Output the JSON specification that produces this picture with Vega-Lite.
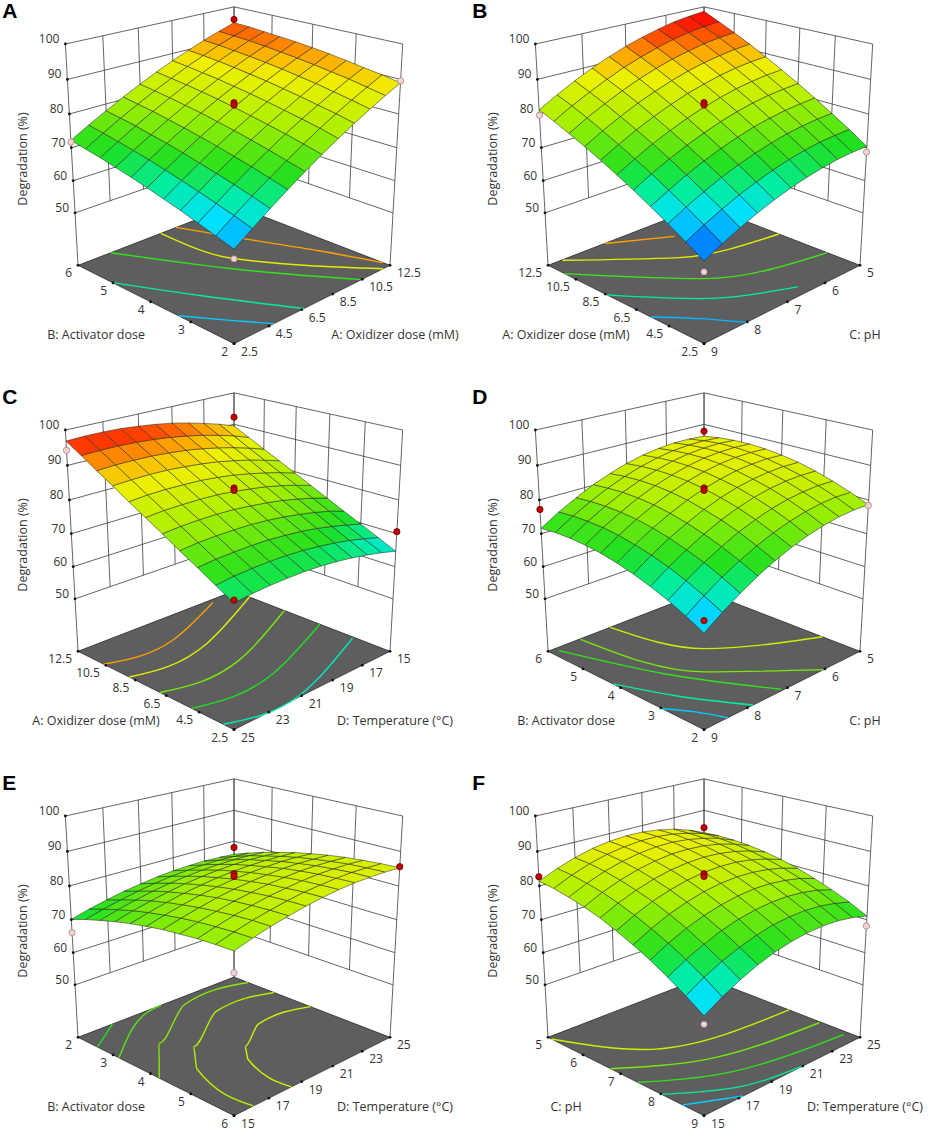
{
"$schema":"https://vega.github.io/schema/vega-lite/v6.json",
"background":"white",
"padding":0,
"bounds":"flush",
"columns":2,
"spacing":{"row":24,"column":0},
"data":{"values":[
{"t":"F","p":"A"},{"t":"F","p":"B"},{"t":"F","p":"C"},{"t":"F","p":"D"},{"t":"F","p":"E"},{"t":"F","p":"F"},
{"t":"L","p":"A","l":"A"},{"t":"L","p":"B","l":"B"},{"t":"L","p":"C","l":"C"},{"t":"L","p":"D","l":"D"},{"t":"L","p":"E","l":"E"},{"t":"L","p":"F","l":"F"},
{"t":"x","p":"A","v":-1,"l":"2.5"},{"t":"x","p":"A","v":-0.6,"l":"4.5"},{"t":"x","p":"A","v":-0.2,"l":"6.5"},{"t":"x","p":"A","v":0.2,"l":"8.5"},{"t":"x","p":"A","v":0.6,"l":"10.5"},{"t":"x","p":"A","v":1,"l":"12.5"},
{"t":"y","p":"A","v":-1,"l":"2"},{"t":"y","p":"A","v":-0.5,"l":"3"},{"t":"y","p":"A","v":0,"l":"4"},{"t":"y","p":"A","v":0.5,"l":"5"},{"t":"y","p":"A","v":1,"l":"6"},
{"t":"x","p":"B","v":-1,"l":"9"},{"t":"x","p":"B","v":-0.5,"l":"8"},{"t":"x","p":"B","v":0,"l":"7"},{"t":"x","p":"B","v":0.5,"l":"6"},{"t":"x","p":"B","v":1,"l":"5"},
{"t":"y","p":"B","v":-1,"l":"2.5"},{"t":"y","p":"B","v":-0.6,"l":"4.5"},{"t":"y","p":"B","v":-0.2,"l":"6.5"},{"t":"y","p":"B","v":0.2,"l":"8.5"},{"t":"y","p":"B","v":0.6,"l":"10.5"},{"t":"y","p":"B","v":1,"l":"12.5"},
{"t":"x","p":"C","v":-1,"l":"25"},{"t":"x","p":"C","v":-0.6,"l":"23"},{"t":"x","p":"C","v":-0.2,"l":"21"},{"t":"x","p":"C","v":0.2,"l":"19"},{"t":"x","p":"C","v":0.6,"l":"17"},{"t":"x","p":"C","v":1,"l":"15"},
{"t":"y","p":"C","v":-1,"l":"2.5"},{"t":"y","p":"C","v":-0.6,"l":"4.5"},{"t":"y","p":"C","v":-0.2,"l":"6.5"},{"t":"y","p":"C","v":0.2,"l":"8.5"},{"t":"y","p":"C","v":0.6,"l":"10.5"},{"t":"y","p":"C","v":1,"l":"12.5"},
{"t":"x","p":"D","v":-1,"l":"9"},{"t":"x","p":"D","v":-0.5,"l":"8"},{"t":"x","p":"D","v":0,"l":"7"},{"t":"x","p":"D","v":0.5,"l":"6"},{"t":"x","p":"D","v":1,"l":"5"},
{"t":"y","p":"D","v":-1,"l":"2"},{"t":"y","p":"D","v":-0.5,"l":"3"},{"t":"y","p":"D","v":0,"l":"4"},{"t":"y","p":"D","v":0.5,"l":"5"},{"t":"y","p":"D","v":1,"l":"6"},
{"t":"x","p":"E","v":-1,"l":"15"},{"t":"x","p":"E","v":-0.6,"l":"17"},{"t":"x","p":"E","v":-0.2,"l":"19"},{"t":"x","p":"E","v":0.2,"l":"21"},{"t":"x","p":"E","v":0.6,"l":"23"},{"t":"x","p":"E","v":1,"l":"25"},
{"t":"y","p":"E","v":-1,"l":"6"},{"t":"y","p":"E","v":-0.5,"l":"5"},{"t":"y","p":"E","v":0,"l":"4"},{"t":"y","p":"E","v":0.5,"l":"3"},{"t":"y","p":"E","v":1,"l":"2"},
{"t":"x","p":"F","v":-1,"l":"15"},{"t":"x","p":"F","v":-0.6,"l":"17"},{"t":"x","p":"F","v":-0.2,"l":"19"},{"t":"x","p":"F","v":0.2,"l":"21"},{"t":"x","p":"F","v":0.6,"l":"23"},{"t":"x","p":"F","v":1,"l":"25"},
{"t":"y","p":"F","v":-1,"l":"9"},{"t":"y","p":"F","v":-0.5,"l":"8"},{"t":"y","p":"F","v":0,"l":"7"},{"t":"y","p":"F","v":0.5,"l":"6"},{"t":"y","p":"F","v":1,"l":"5"},
{"t":"z","p":"A","z":50,"l":"50"},{"t":"z","p":"A","z":60,"l":"60"},{"t":"z","p":"A","z":70,"l":"70"},{"t":"z","p":"A","z":80,"l":"80"},{"t":"z","p":"A","z":90,"l":"90"},{"t":"z","p":"A","z":100,"l":"100"},
{"t":"z","p":"B","z":50,"l":"50"},{"t":"z","p":"B","z":60,"l":"60"},{"t":"z","p":"B","z":70,"l":"70"},{"t":"z","p":"B","z":80,"l":"80"},{"t":"z","p":"B","z":90,"l":"90"},{"t":"z","p":"B","z":100,"l":"100"},
{"t":"z","p":"C","z":50,"l":"50"},{"t":"z","p":"C","z":60,"l":"60"},{"t":"z","p":"C","z":70,"l":"70"},{"t":"z","p":"C","z":80,"l":"80"},{"t":"z","p":"C","z":90,"l":"90"},{"t":"z","p":"C","z":100,"l":"100"},
{"t":"z","p":"D","z":50,"l":"50"},{"t":"z","p":"D","z":60,"l":"60"},{"t":"z","p":"D","z":70,"l":"70"},{"t":"z","p":"D","z":80,"l":"80"},{"t":"z","p":"D","z":90,"l":"90"},{"t":"z","p":"D","z":100,"l":"100"},
{"t":"z","p":"E","z":50,"l":"50"},{"t":"z","p":"E","z":60,"l":"60"},{"t":"z","p":"E","z":70,"l":"70"},{"t":"z","p":"E","z":80,"l":"80"},{"t":"z","p":"E","z":90,"l":"90"},{"t":"z","p":"E","z":100,"l":"100"},
{"t":"z","p":"F","z":50,"l":"50"},{"t":"z","p":"F","z":60,"l":"60"},{"t":"z","p":"F","z":70,"l":"70"},{"t":"z","p":"F","z":80,"l":"80"},{"t":"z","p":"F","z":90,"l":"90"},{"t":"z","p":"F","z":100,"l":"100"},
{"t":"T","p":"A","a":"x","l":"A: Oxidizer dose (mM)"},{"t":"T","p":"A","a":"y","l":"B: Activator dose"},{"t":"T","p":"A","a":"z","l":"Degradation (%)"},
{"t":"T","p":"B","a":"x","l":"C: pH"},{"t":"T","p":"B","a":"y","l":"A: Oxidizer dose (mM)"},{"t":"T","p":"B","a":"z","l":"Degradation (%)"},
{"t":"T","p":"C","a":"x","l":"D: Temperature (°C)"},{"t":"T","p":"C","a":"y","l":"A: Oxidizer dose (mM)"},{"t":"T","p":"C","a":"z","l":"Degradation (%)"},
{"t":"T","p":"D","a":"x","l":"C: pH"},{"t":"T","p":"D","a":"y","l":"B: Activator dose"},{"t":"T","p":"D","a":"z","l":"Degradation (%)"},
{"t":"T","p":"E","a":"x","l":"D: Temperature (°C)"},{"t":"T","p":"E","a":"y","l":"B: Activator dose"},{"t":"T","p":"E","a":"z","l":"Degradation (%)"},
{"t":"T","p":"F","a":"x","l":"D: Temperature (°C)"},{"t":"T","p":"F","a":"y","l":"C: pH"},{"t":"T","p":"F","a":"z","l":"Degradation (%)"},
{"t":"d","p":"A","x":1,"y":1,"z":96.0,"a":1},{"t":"d","p":"A","x":1,"y":-1,"z":89.6,"a":0},{"t":"d","p":"A","x":-1,"y":1,"z":71.7,"a":0},{"t":"d","p":"A","x":0,"y":0,"z":83.3,"a":1},{"t":"d","p":"A","x":0,"y":0,"z":82.6,"a":1},{"t":"d","p":"A","x":-1,"y":-1,"z":57.2,"a":0},
{"t":"d","p":"B","x":-1,"y":1,"z":79.6,"a":0},{"t":"d","p":"B","x":1,"y":-1,"z":68.7,"a":0},{"t":"d","p":"B","x":0,"y":0,"z":83.3,"a":1},{"t":"d","p":"B","x":0,"y":0,"z":82.6,"a":1},{"t":"d","p":"B","x":-1,"y":-1,"z":53.6,"a":0},
{"t":"d","p":"C","x":1,"y":1,"z":92.3,"a":1},{"t":"d","p":"C","x":-1,"y":1,"z":94.3,"a":0},{"t":"d","p":"C","x":0,"y":0,"z":83.5,"a":1},{"t":"d","p":"C","x":0,"y":0,"z":82.8,"a":1},{"t":"d","p":"C","x":1,"y":-1,"z":70.6,"a":1},{"t":"d","p":"C","x":-1,"y":-1,"z":69.3,"a":1},
{"t":"d","p":"D","x":1,"y":1,"z":87.8,"a":1},{"t":"d","p":"D","x":-1,"y":1,"z":77.2,"a":1},{"t":"d","p":"D","x":1,"y":-1,"z":78.4,"a":0},{"t":"d","p":"D","x":0,"y":0,"z":83.5,"a":1},{"t":"d","p":"D","x":0,"y":0,"z":82.8,"a":1},{"t":"d","p":"D","x":-1,"y":-1,"z":63.8,"a":1},
{"t":"d","p":"E","x":1,"y":1,"z":77.9,"a":1},{"t":"d","p":"E","x":0,"y":0,"z":83.6,"a":1},{"t":"d","p":"E","x":0,"y":0,"z":82.8,"a":1},{"t":"d","p":"E","x":1,"y":-1,"z":85.6,"a":1},{"t":"d","p":"E","x":-1,"y":1,"z":66.1,"a":0},{"t":"d","p":"E","x":-1,"y":-1,"z":72.8,"a":0},
{"t":"d","p":"F","x":1,"y":1,"z":84.4,"a":1},{"t":"d","p":"F","x":0,"y":0,"z":83.6,"a":1},{"t":"d","p":"F","x":0,"y":0,"z":82.8,"a":1},{"t":"d","p":"F","x":-1,"y":1,"z":82.7,"a":1},{"t":"d","p":"F","x":1,"y":-1,"z":68.1,"a":0},{"t":"d","p":"F","x":-1,"y":-1,"z":59.0,"a":0},
{"t":"c","p":"A","g":1,"z":63,"x":-1,"y":-0.35},{"t":"c","p":"A","g":1,"z":63,"x":-0.78,"y":-0.67},{"t":"c","p":"A","g":1,"z":63,"x":-0.54,"y":-1},
{"t":"c","p":"A","g":2,"z":68,"x":-1,"y":0.51},{"t":"c","p":"A","g":2,"z":68,"x":-0.61,"y":-0.24},{"t":"c","p":"A","g":2,"z":68,"x":-0.17,"y":-1},
{"t":"c","p":"A","g":3,"z":73,"x":-0.62,"y":1},{"t":"c","p":"A","g":3,"z":73,"x":-0.06,"y":-0.04},{"t":"c","p":"A","g":3,"z":73,"x":0.59,"y":-1},
{"t":"c","p":"A","g":4,"z":86,"x":0,"y":1},{"t":"c","p":"A","g":4,"z":86,"x":0.09,"y":0.12},{"t":"c","p":"A","g":4,"z":86,"x":0.9,"y":-1},
{"t":"c","p":"A","g":5,"z":92,"x":0.2,"y":1},{"t":"c","p":"A","g":5,"z":92,"x":0.48,"y":0.34},{"t":"c","p":"A","g":5,"z":92,"x":0.78,"y":-0.34},{"t":"c","p":"A","g":5,"z":92,"x":1,"y":-0.92},
{"t":"c","p":"B","g":1,"z":62,"x":-1,"y":-0.38},{"t":"c","p":"B","g":1,"z":62,"x":-0.73,"y":-0.69},{"t":"c","p":"B","g":1,"z":62,"x":-0.51,"y":-1},
{"t":"c","p":"B","g":2,"z":68,"x":-1,"y":0.18},{"t":"c","p":"B","g":2,"z":68,"x":-0.48,"y":-0.44},{"t":"c","p":"B","g":2,"z":68,"x":0.28,"y":-0.88},
{"t":"c","p":"B","g":3,"z":74,"x":-1,"y":0.76},{"t":"c","p":"B","g":3,"z":74,"x":-0.19,"y":-0.19},{"t":"c","p":"B","g":3,"z":74,"x":1,"y":-0.62},
{"t":"c","p":"B","g":4,"z":86,"x":-0.84,"y":0.99},{"t":"c","p":"B","g":4,"z":86,"x":-0.05,"y":0.28},{"t":"c","p":"B","g":4,"z":86,"x":1,"y":-0.02},
{"t":"c","p":"B","g":5,"z":92,"x":-0.33,"y":1},{"t":"c","p":"B","g":5,"z":92,"x":0.25,"y":0.65},
{"t":"c","p":"C","g":1,"z":92,"x":-1,"y":0.63},{"t":"c","p":"C","g":1,"z":92,"x":-0.23,"y":0.57},{"t":"c","p":"C","g":1,"z":92,"x":0.64,"y":0.94},
{"t":"c","p":"C","g":2,"z":86,"x":-1,"y":0.28},{"t":"c","p":"C","g":2,"z":86,"x":-0.07,"y":0.29},{"t":"c","p":"C","g":2,"z":86,"x":1,"y":0.78},
{"t":"c","p":"C","g":3,"z":77,"x":-1,"y":-0.12},{"t":"c","p":"C","g":3,"z":77,"x":-0.1,"y":-0.16},{"t":"c","p":"C","g":3,"z":77,"x":1,"y":0.3},
{"t":"c","p":"C","g":4,"z":72,"x":-1,"y":-0.51},{"t":"c","p":"C","g":4,"z":72,"x":-0.06,"y":-0.55},{"t":"c","p":"C","g":4,"z":72,"x":1,"y":-0.16},
{"t":"c","p":"C","g":5,"z":67,"x":-1,"y":-0.88},{"t":"c","p":"C","g":5,"z":67,"x":-0.19,"y":-0.98},{"t":"c","p":"C","g":5,"z":67,"x":0.98,"y":-0.58},
{"t":"c","p":"D","g":1,"z":84,"x":-0.26,"y":1},{"t":"c","p":"D","g":1,"z":84,"x":0.04,"y":0.04},{"t":"c","p":"D","g":1,"z":84,"x":1,"y":-0.56},
{"t":"c","p":"D","g":2,"z":77,"x":-0.63,"y":0.99},{"t":"c","p":"D","g":2,"z":77,"x":-0.29,"y":-0.29},{"t":"c","p":"D","g":2,"z":77,"x":0.48,"y":-1},
{"t":"c","p":"D","g":3,"z":73,"x":-0.92,"y":0.94},{"t":"c","p":"D","g":3,"z":73,"x":-0.56,"y":-0.07},{"t":"c","p":"D","g":3,"z":73,"x":-0.06,"y":-0.98},
{"t":"c","p":"D","g":4,"z":68,"x":-1,"y":0.1},{"t":"c","p":"D","g":4,"z":68,"x":-0.75,"y":-0.47},{"t":"c","p":"D","g":4,"z":68,"x":-0.43,"y":-1},
{"t":"c","p":"D","g":5,"z":63,"x":-1,"y":-0.52},{"t":"c","p":"D","g":5,"z":63,"x":-0.84,"y":-0.76},{"t":"c","p":"D","g":5,"z":63,"x":-0.73,"y":-1},
{"t":"c","p":"E","g":1,"z":72,"x":-1,"y":0.72},{"t":"c","p":"E","g":1,"z":72,"x":-0.6,"y":1},
{"t":"c","p":"E","g":2,"z":75,"x":-1,"y":0.42},{"t":"c","p":"E","g":2,"z":75,"x":-0.55,"y":0.78},{"t":"c","p":"E","g":2,"z":75,"x":0,"y":1},
{"t":"c","p":"E","g":3,"z":78,"x":-1,"y":-0.11},{"t":"c","p":"E","g":3,"z":78,"x":-0.56,"y":0.39},{"t":"c","p":"E","g":3,"z":78,"x":0.17,"y":0.85},{"t":"c","p":"E","g":3,"z":78,"x":1,"y":0.8},
{"t":"c","p":"E","g":4,"z":81,"x":-0.78,"y":-1},{"t":"c","p":"E","g":4,"z":81,"x":-0.66,"y":-0.21},{"t":"c","p":"E","g":4,"z":81,"x":-0.39,"y":0.12},{"t":"c","p":"E","g":4,"z":81,"x":0.28,"y":0.52},{"t":"c","p":"E","g":4,"z":81,"x":1,"y":0.44},
{"t":"c","p":"E","g":5,"z":85,"x":-0.33,"y":-1},{"t":"c","p":"E","g":5,"z":85,"x":-0.22,"y":-0.39},{"t":"c","p":"E","g":5,"z":85,"x":-0.06,"y":-0.2},{"t":"c","p":"E","g":5,"z":85,"x":0.36,"y":0.04},{"t":"c","p":"E","g":5,"z":85,"x":1,"y":-0.04},
{"t":"c","p":"F","g":1,"z":84,"x":-1,"y":0.95},{"t":"c","p":"F","g":1,"z":84,"x":-0.55,"y":0.2},{"t":"c","p":"F","g":1,"z":84,"x":1,"y":-0.15},
{"t":"c","p":"F","g":2,"z":77,"x":-1,"y":0.13},{"t":"c","p":"F","g":2,"z":77,"x":-0.26,"y":-0.34},{"t":"c","p":"F","g":2,"z":77,"x":0.98,"y":-0.54},
{"t":"c","p":"F","g":3,"z":73,"x":-1,"y":-0.22},{"t":"c","p":"F","g":3,"z":73,"x":-0.31,"y":-0.64},{"t":"c","p":"F","g":3,"z":73,"x":0.94,"y":-0.86},
{"t":"c","p":"F","g":4,"z":68,"x":-1,"y":-0.51},{"t":"c","p":"F","g":4,"z":68,"x":-0.46,"y":-0.87},{"t":"c","p":"F","g":4,"z":68,"x":0.22,"y":-1},
{"t":"c","p":"F","g":5,"z":63,"x":-1,"y":-0.76},{"t":"c","p":"F","g":5,"z":63,"x":-0.55,"y":-1},
{"p":"A","x":-1,"y":-1,"z":59.8},{"p":"A","x":-1,"y":-0.8,"z":61.4},{"p":"A","x":-1,"y":-0.6,"z":62.9},{"p":"A","x":-1,"y":-0.4,"z":64.4},{"p":"A","x":-1,"y":-0.2,"z":65.7},{"p":"A","x":-1,"y":0,"z":67},{"p":"A","x":-1,"y":0.2,"z":68.2},{"p":"A","x":-1,"y":0.4,"z":69.3},{"p":"A","x":-1,"y":0.6,"z":70.4},{"p":"A","x":-1,"y":0.8,"z":71.3},{"p":"A","x":-1,"y":1,"z":72.2},
{"p":"A","x":-0.8,"y":-1,"z":63.4},{"p":"A","x":-0.8,"y":-0.8,"z":65.0},{"p":"A","x":-0.8,"y":-0.6,"z":66.4},{"p":"A","x":-0.8,"y":-0.4,"z":67.8},{"p":"A","x":-0.8,"y":-0.2,"z":69.1},{"p":"A","x":-0.8,"y":0,"z":70.3},{"p":"A","x":-0.8,"y":0.2,"z":71.5},{"p":"A","x":-0.8,"y":0.4,"z":72.5},{"p":"A","x":-0.8,"y":0.6,"z":73.5},{"p":"A","x":-0.8,"y":0.8,"z":74.4},{"p":"A","x":-0.8,"y":1,"z":75.2},
{"p":"A","x":-0.6,"y":-1,"z":66.9},{"p":"A","x":-0.6,"y":-0.8,"z":68.4},{"p":"A","x":-0.6,"y":-0.6,"z":69.8},{"p":"A","x":-0.6,"y":-0.4,"z":71.1},{"p":"A","x":-0.6,"y":-0.2,"z":72.3},{"p":"A","x":-0.6,"y":0,"z":73.5},{"p":"A","x":-0.6,"y":0.2,"z":74.6},{"p":"A","x":-0.6,"y":0.4,"z":75.5},{"p":"A","x":-0.6,"y":0.6,"z":76.5},{"p":"A","x":-0.6,"y":0.8,"z":77.3},{"p":"A","x":-0.6,"y":1,"z":78.0},
{"p":"A","x":-0.4,"y":-1,"z":70.2},{"p":"A","x":-0.4,"y":-0.8,"z":71.6},{"p":"A","x":-0.4,"y":-0.6,"z":73.0},{"p":"A","x":-0.4,"y":-0.4,"z":74.2},{"p":"A","x":-0.4,"y":-0.2,"z":75.4},{"p":"A","x":-0.4,"y":0,"z":76.5},{"p":"A","x":-0.4,"y":0.2,"z":77.5},{"p":"A","x":-0.4,"y":0.4,"z":78.4},{"p":"A","x":-0.4,"y":0.6,"z":79.3},{"p":"A","x":-0.4,"y":0.8,"z":80.0},{"p":"A","x":-0.4,"y":1,"z":80.7},
{"p":"A","x":-0.2,"y":-1,"z":73.4},{"p":"A","x":-0.2,"y":-0.8,"z":74.7},{"p":"A","x":-0.2,"y":-0.6,"z":76.0},{"p":"A","x":-0.2,"y":-0.4,"z":77.2},{"p":"A","x":-0.2,"y":-0.2,"z":78.3},{"p":"A","x":-0.2,"y":0,"z":79.3},{"p":"A","x":-0.2,"y":0.2,"z":80.3},{"p":"A","x":-0.2,"y":0.4,"z":81.1},{"p":"A","x":-0.2,"y":0.6,"z":81.9},{"p":"A","x":-0.2,"y":0.8,"z":82.6},{"p":"A","x":-0.2,"y":1,"z":83.2},
{"p":"A","x":0,"y":-1,"z":76.4},{"p":"A","x":0,"y":-0.8,"z":77.7},{"p":"A","x":0,"y":-0.6,"z":78.9},{"p":"A","x":0,"y":-0.4,"z":80.0},{"p":"A","x":0,"y":-0.2,"z":81.0},{"p":"A","x":0,"y":0,"z":82.0},{"p":"A","x":0,"y":0.2,"z":82.9},{"p":"A","x":0,"y":0.4,"z":83.7},{"p":"A","x":0,"y":0.6,"z":84.4},{"p":"A","x":0,"y":0.8,"z":85.0},{"p":"A","x":0,"y":1,"z":85.6},
{"p":"A","x":0.2,"y":-1,"z":79.2},{"p":"A","x":0.2,"y":-0.8,"z":80.5},{"p":"A","x":0.2,"y":-0.6,"z":81.6},{"p":"A","x":0.2,"y":-0.4,"z":82.6},{"p":"A","x":0.2,"y":-0.2,"z":83.6},{"p":"A","x":0.2,"y":0,"z":84.5},{"p":"A","x":0.2,"y":0.2,"z":85.3},{"p":"A","x":0.2,"y":0.4,"z":86.1},{"p":"A","x":0.2,"y":0.6,"z":86.7},{"p":"A","x":0.2,"y":0.8,"z":87.3},{"p":"A","x":0.2,"y":1,"z":87.8},
{"p":"A","x":0.4,"y":-1,"z":81.9},{"p":"A","x":0.4,"y":-0.8,"z":83.1},{"p":"A","x":0.4,"y":-0.6,"z":84.1},{"p":"A","x":0.4,"y":-0.4,"z":85.1},{"p":"A","x":0.4,"y":-0.2,"z":86.0},{"p":"A","x":0.4,"y":0,"z":86.9},{"p":"A","x":0.4,"y":0.2,"z":87.6},{"p":"A","x":0.4,"y":0.4,"z":88.3},{"p":"A","x":0.4,"y":0.6,"z":88.9},{"p":"A","x":0.4,"y":0.8,"z":89.4},{"p":"A","x":0.4,"y":1,"z":89.8},
{"p":"A","x":0.6,"y":-1,"z":84.4},{"p":"A","x":0.6,"y":-0.8,"z":85.5},{"p":"A","x":0.6,"y":-0.6,"z":86.5},{"p":"A","x":0.6,"y":-0.4,"z":87.5},{"p":"A","x":0.6,"y":-0.2,"z":88.3},{"p":"A","x":0.6,"y":0,"z":89.1},{"p":"A","x":0.6,"y":0.2,"z":89.8},{"p":"A","x":0.6,"y":0.4,"z":90.4},{"p":"A","x":0.6,"y":0.6,"z":90.9},{"p":"A","x":0.6,"y":0.8,"z":91.4},{"p":"A","x":0.6,"y":1,"z":91.7},
{"p":"A","x":0.8,"y":-1,"z":86.8},{"p":"A","x":0.8,"y":-0.8,"z":87.8},{"p":"A","x":0.8,"y":-0.6,"z":88.8},{"p":"A","x":0.8,"y":-0.4,"z":89.6},{"p":"A","x":0.8,"y":-0.2,"z":90.4},{"p":"A","x":0.8,"y":0,"z":91.1},{"p":"A","x":0.8,"y":0.2,"z":91.7},{"p":"A","x":0.8,"y":0.4,"z":92.3},{"p":"A","x":0.8,"y":0.6,"z":92.8},{"p":"A","x":0.8,"y":0.8,"z":93.1},{"p":"A","x":0.8,"y":1,"z":93.4},
{"p":"A","x":1,"y":-1,"z":89.0},{"p":"A","x":1,"y":-0.8,"z":90.0},{"p":"A","x":1,"y":-0.6,"z":90.8},{"p":"A","x":1,"y":-0.4,"z":91.6},{"p":"A","x":1,"y":-0.2,"z":92.4},{"p":"A","x":1,"y":0,"z":93.0},{"p":"A","x":1,"y":0.2,"z":93.6},{"p":"A","x":1,"y":0.4,"z":94.0},{"p":"A","x":1,"y":0.6,"z":94.4},{"p":"A","x":1,"y":0.8,"z":94.8},{"p":"A","x":1,"y":1,"z":95.0},
{"p":"B","x":-1,"y":-1,"z":56.6},{"p":"B","x":-1,"y":-0.8,"z":59.7},{"p":"B","x":-1,"y":-0.6,"z":62.7},{"p":"B","x":-1,"y":-0.4,"z":65.5},{"p":"B","x":-1,"y":-0.2,"z":68.2},{"p":"B","x":-1,"y":0,"z":70.7},{"p":"B","x":-1,"y":0.2,"z":73.1},{"p":"B","x":-1,"y":0.4,"z":75.3},{"p":"B","x":-1,"y":0.6,"z":77.4},{"p":"B","x":-1,"y":0.8,"z":79.4},{"p":"B","x":-1,"y":1,"z":81.2},
{"p":"B","x":-0.8,"y":-1,"z":59.2},{"p":"B","x":-0.8,"y":-0.8,"z":62.4},{"p":"B","x":-0.8,"y":-0.6,"z":65.4},{"p":"B","x":-0.8,"y":-0.4,"z":68.2},{"p":"B","x":-0.8,"y":-0.2,"z":71.0},{"p":"B","x":-0.8,"y":0,"z":73.5},{"p":"B","x":-0.8,"y":0.2,"z":75.9},{"p":"B","x":-0.8,"y":0.4,"z":78.2},{"p":"B","x":-0.8,"y":0.6,"z":80.4},{"p":"B","x":-0.8,"y":0.8,"z":82.4},{"p":"B","x":-0.8,"y":1,"z":84.2},
{"p":"B","x":-0.6,"y":-1,"z":61.6},{"p":"B","x":-0.6,"y":-0.8,"z":64.8},{"p":"B","x":-0.6,"y":-0.6,"z":67.8},{"p":"B","x":-0.6,"y":-0.4,"z":70.7},{"p":"B","x":-0.6,"y":-0.2,"z":73.5},{"p":"B","x":-0.6,"y":0,"z":76.1},{"p":"B","x":-0.6,"y":0.2,"z":78.5},{"p":"B","x":-0.6,"y":0.4,"z":80.8},{"p":"B","x":-0.6,"y":0.6,"z":83.0},{"p":"B","x":-0.6,"y":0.8,"z":85.0},{"p":"B","x":-0.6,"y":1,"z":86.9},
{"p":"B","x":-0.4,"y":-1,"z":63.7},{"p":"B","x":-0.4,"y":-0.8,"z":66.9},{"p":"B","x":-0.4,"y":-0.6,"z":70.0},{"p":"B","x":-0.4,"y":-0.4,"z":72.9},{"p":"B","x":-0.4,"y":-0.2,"z":75.7},{"p":"B","x":-0.4,"y":0,"z":78.3},{"p":"B","x":-0.4,"y":0.2,"z":80.8},{"p":"B","x":-0.4,"y":0.4,"z":83.2},{"p":"B","x":-0.4,"y":0.6,"z":85.4},{"p":"B","x":-0.4,"y":0.8,"z":87.4},{"p":"B","x":-0.4,"y":1,"z":89.4},
{"p":"B","x":-0.2,"y":-1,"z":65.5},{"p":"B","x":-0.2,"y":-0.8,"z":68.7},{"p":"B","x":-0.2,"y":-0.6,"z":71.8},{"p":"B","x":-0.2,"y":-0.4,"z":74.8},{"p":"B","x":-0.2,"y":-0.2,"z":77.6},{"p":"B","x":-0.2,"y":0,"z":80.3},{"p":"B","x":-0.2,"y":0.2,"z":82.8},{"p":"B","x":-0.2,"y":0.4,"z":85.2},{"p":"B","x":-0.2,"y":0.6,"z":87.5},{"p":"B","x":-0.2,"y":0.8,"z":89.6},{"p":"B","x":-0.2,"y":1,"z":91.5},
{"p":"B","x":0,"y":-1,"z":67.0},{"p":"B","x":0,"y":-0.8,"z":70.3},{"p":"B","x":0,"y":-0.6,"z":73.4},{"p":"B","x":0,"y":-0.4,"z":76.4},{"p":"B","x":0,"y":-0.2,"z":79.3},{"p":"B","x":0,"y":0,"z":82.0},{"p":"B","x":0,"y":0.2,"z":84.6},{"p":"B","x":0,"y":0.4,"z":87.0},{"p":"B","x":0,"y":0.6,"z":89.3},{"p":"B","x":0,"y":0.8,"z":91.4},{"p":"B","x":0,"y":1,"z":93.4},
{"p":"B","x":0.2,"y":-1,"z":68.2},{"p":"B","x":0.2,"y":-0.8,"z":71.6},{"p":"B","x":0.2,"y":-0.6,"z":74.7},{"p":"B","x":0.2,"y":-0.4,"z":77.8},{"p":"B","x":0.2,"y":-0.2,"z":80.7},{"p":"B","x":0.2,"y":0,"z":83.4},{"p":"B","x":0.2,"y":0.2,"z":86.0},{"p":"B","x":0.2,"y":0.4,"z":88.5},{"p":"B","x":0.2,"y":0.6,"z":90.8},{"p":"B","x":0.2,"y":0.8,"z":93.0},{"p":"B","x":0.2,"y":1,"z":95.0},
{"p":"B","x":0.4,"y":-1,"z":69.2},{"p":"B","x":0.4,"y":-0.8,"z":72.6},{"p":"B","x":0.4,"y":-0.6,"z":75.8},{"p":"B","x":0.4,"y":-0.4,"z":78.8},{"p":"B","x":0.4,"y":-0.2,"z":81.8},{"p":"B","x":0.4,"y":0,"z":84.6},{"p":"B","x":0.4,"y":0.2,"z":87.2},{"p":"B","x":0.4,"y":0.4,"z":89.7},{"p":"B","x":0.4,"y":0.6,"z":92.0},{"p":"B","x":0.4,"y":0.8,"z":94.3},{"p":"B","x":0.4,"y":1,"z":96.3},
{"p":"B","x":0.6,"y":-1,"z":69.9},{"p":"B","x":0.6,"y":-0.8,"z":73.3},{"p":"B","x":0.6,"y":-0.6,"z":76.5},{"p":"B","x":0.6,"y":-0.4,"z":79.6},{"p":"B","x":0.6,"y":-0.2,"z":82.6},{"p":"B","x":0.6,"y":0,"z":85.4},{"p":"B","x":0.6,"y":0.2,"z":88.1},{"p":"B","x":0.6,"y":0.4,"z":90.6},{"p":"B","x":0.6,"y":0.6,"z":93.0},{"p":"B","x":0.6,"y":0.8,"z":95.3},{"p":"B","x":0.6,"y":1,"z":97.4},
{"p":"B","x":0.8,"y":-1,"z":70.3},{"p":"B","x":0.8,"y":-0.8,"z":73.7},{"p":"B","x":0.8,"y":-0.6,"z":77.0},{"p":"B","x":0.8,"y":-0.4,"z":80.1},{"p":"B","x":0.8,"y":-0.2,"z":83.1},{"p":"B","x":0.8,"y":0,"z":86.0},{"p":"B","x":0.8,"y":0.2,"z":88.7},{"p":"B","x":0.8,"y":0.4,"z":91.3},{"p":"B","x":0.8,"y":0.6,"z":93.7},{"p":"B","x":0.8,"y":0.8,"z":96.0},{"p":"B","x":0.8,"y":1,"z":98.1},
{"p":"B","x":1,"y":-1,"z":70.4},{"p":"B","x":1,"y":-0.8,"z":73.9},{"p":"B","x":1,"y":-0.6,"z":77.2},{"p":"B","x":1,"y":-0.4,"z":80.4},{"p":"B","x":1,"y":-0.2,"z":83.4},{"p":"B","x":1,"y":0,"z":86.3},{"p":"B","x":1,"y":0.2,"z":89.0},{"p":"B","x":1,"y":0.4,"z":91.7},{"p":"B","x":1,"y":0.6,"z":94.1},{"p":"B","x":1,"y":0.8,"z":96.4},{"p":"B","x":1,"y":1,"z":98.6},
{"p":"C","x":-1,"y":-1,"z":68.5},{"p":"C","x":-1,"y":-0.8,"z":71.3},{"p":"C","x":-1,"y":-0.6,"z":74.2},{"p":"C","x":-1,"y":-0.4,"z":77.0},{"p":"C","x":-1,"y":-0.2,"z":79.9},{"p":"C","x":-1,"y":0,"z":82.7},{"p":"C","x":-1,"y":0.2,"z":85.5},{"p":"C","x":-1,"y":0.4,"z":88.4},{"p":"C","x":-1,"y":0.6,"z":91.2},{"p":"C","x":-1,"y":0.8,"z":94.1},{"p":"C","x":-1,"y":1,"z":96.9},
{"p":"C","x":-0.8,"y":-1,"z":69.1},{"p":"C","x":-0.8,"y":-0.8,"z":71.9},{"p":"C","x":-0.8,"y":-0.6,"z":74.7},{"p":"C","x":-0.8,"y":-0.4,"z":77.5},{"p":"C","x":-0.8,"y":-0.2,"z":80.3},{"p":"C","x":-0.8,"y":0,"z":83.1},{"p":"C","x":-0.8,"y":0.2,"z":85.9},{"p":"C","x":-0.8,"y":0.4,"z":88.7},{"p":"C","x":-0.8,"y":0.6,"z":91.5},{"p":"C","x":-0.8,"y":0.8,"z":94.3},{"p":"C","x":-0.8,"y":1,"z":97.1},
{"p":"C","x":-0.6,"y":-1,"z":69.4},{"p":"C","x":-0.6,"y":-0.8,"z":72.2},{"p":"C","x":-0.6,"y":-0.6,"z":74.9},{"p":"C","x":-0.6,"y":-0.4,"z":77.7},{"p":"C","x":-0.6,"y":-0.2,"z":80.5},{"p":"C","x":-0.6,"y":0,"z":83.2},{"p":"C","x":-0.6,"y":0.2,"z":86.0},{"p":"C","x":-0.6,"y":0.4,"z":88.8},{"p":"C","x":-0.6,"y":0.6,"z":91.5},{"p":"C","x":-0.6,"y":0.8,"z":94.3},{"p":"C","x":-0.6,"y":1,"z":97.1},
{"p":"C","x":-0.4,"y":-1,"z":69.5},{"p":"C","x":-0.4,"y":-0.8,"z":72.3},{"p":"C","x":-0.4,"y":-0.6,"z":75.0},{"p":"C","x":-0.4,"y":-0.4,"z":77.7},{"p":"C","x":-0.4,"y":-0.2,"z":80.5},{"p":"C","x":-0.4,"y":0,"z":83.2},{"p":"C","x":-0.4,"y":0.2,"z":85.9},{"p":"C","x":-0.4,"y":0.4,"z":88.7},{"p":"C","x":-0.4,"y":0.6,"z":91.4},{"p":"C","x":-0.4,"y":0.8,"z":94.1},{"p":"C","x":-0.4,"y":1,"z":96.9},
{"p":"C","x":-0.2,"y":-1,"z":69.5},{"p":"C","x":-0.2,"y":-0.8,"z":72.2},{"p":"C","x":-0.2,"y":-0.6,"z":74.9},{"p":"C","x":-0.2,"y":-0.4,"z":77.6},{"p":"C","x":-0.2,"y":-0.2,"z":80.3},{"p":"C","x":-0.2,"y":0,"z":83.0},{"p":"C","x":-0.2,"y":0.2,"z":85.7},{"p":"C","x":-0.2,"y":0.4,"z":88.3},{"p":"C","x":-0.2,"y":0.6,"z":91.0},{"p":"C","x":-0.2,"y":0.8,"z":93.7},{"p":"C","x":-0.2,"y":1,"z":96.4},
{"p":"C","x":0,"y":-1,"z":69.2},{"p":"C","x":0,"y":-0.8,"z":71.9},{"p":"C","x":0,"y":-0.6,"z":74.5},{"p":"C","x":0,"y":-0.4,"z":77.2},{"p":"C","x":0,"y":-0.2,"z":79.8},{"p":"C","x":0,"y":0,"z":82.5},{"p":"C","x":0,"y":0.2,"z":85.2},{"p":"C","x":0,"y":0.4,"z":87.8},{"p":"C","x":0,"y":0.6,"z":90.5},{"p":"C","x":0,"y":0.8,"z":93.1},{"p":"C","x":0,"y":1,"z":95.8},
{"p":"C","x":0.2,"y":-1,"z":68.7},{"p":"C","x":0.2,"y":-0.8,"z":71.3},{"p":"C","x":0.2,"y":-0.6,"z":74.0},{"p":"C","x":0.2,"y":-0.4,"z":76.6},{"p":"C","x":0.2,"y":-0.2,"z":79.2},{"p":"C","x":0.2,"y":0,"z":81.8},{"p":"C","x":0.2,"y":0.2,"z":84.5},{"p":"C","x":0.2,"y":0.4,"z":87.1},{"p":"C","x":0.2,"y":0.6,"z":89.7},{"p":"C","x":0.2,"y":0.8,"z":92.3},{"p":"C","x":0.2,"y":1,"z":95.0},
{"p":"C","x":0.4,"y":-1,"z":68.0},{"p":"C","x":0.4,"y":-0.8,"z":70.6},{"p":"C","x":0.4,"y":-0.6,"z":73.2},{"p":"C","x":0.4,"y":-0.4,"z":75.8},{"p":"C","x":0.4,"y":-0.2,"z":78.4},{"p":"C","x":0.4,"y":0,"z":81.0},{"p":"C","x":0.4,"y":0.2,"z":83.5},{"p":"C","x":0.4,"y":0.4,"z":86.1},{"p":"C","x":0.4,"y":0.6,"z":88.7},{"p":"C","x":0.4,"y":0.8,"z":91.3},{"p":"C","x":0.4,"y":1,"z":93.9},
{"p":"C","x":0.6,"y":-1,"z":67.1},{"p":"C","x":0.6,"y":-0.8,"z":69.7},{"p":"C","x":0.6,"y":-0.6,"z":72.2},{"p":"C","x":0.6,"y":-0.4,"z":74.8},{"p":"C","x":0.6,"y":-0.2,"z":77.3},{"p":"C","x":0.6,"y":0,"z":79.9},{"p":"C","x":0.6,"y":0.2,"z":82.4},{"p":"C","x":0.6,"y":0.4,"z":85.0},{"p":"C","x":0.6,"y":0.6,"z":87.5},{"p":"C","x":0.6,"y":0.8,"z":90.1},{"p":"C","x":0.6,"y":1,"z":92.6},
{"p":"C","x":0.8,"y":-1,"z":66.0},{"p":"C","x":0.8,"y":-0.8,"z":68.5},{"p":"C","x":0.8,"y":-0.6,"z":71.0},{"p":"C","x":0.8,"y":-0.4,"z":73.6},{"p":"C","x":0.8,"y":-0.2,"z":76.1},{"p":"C","x":0.8,"y":0,"z":78.6},{"p":"C","x":0.8,"y":0.2,"z":81.1},{"p":"C","x":0.8,"y":0.4,"z":83.6},{"p":"C","x":0.8,"y":0.6,"z":86.1},{"p":"C","x":0.8,"y":0.8,"z":88.7},{"p":"C","x":0.8,"y":1,"z":91.2},
{"p":"C","x":1,"y":-1,"z":64.7},{"p":"C","x":1,"y":-0.8,"z":67.2},{"p":"C","x":1,"y":-0.6,"z":69.7},{"p":"C","x":1,"y":-0.4,"z":72.1},{"p":"C","x":1,"y":-0.2,"z":74.6},{"p":"C","x":1,"y":0,"z":77.1},{"p":"C","x":1,"y":0.2,"z":79.6},{"p":"C","x":1,"y":0.4,"z":82.1},{"p":"C","x":1,"y":0.6,"z":84.5},{"p":"C","x":1,"y":0.8,"z":87.0},{"p":"C","x":1,"y":1,"z":89.5},
{"p":"D","x":-1,"y":-1,"z":60.4},{"p":"D","x":-1,"y":-0.8,"z":63.0},{"p":"D","x":-1,"y":-0.6,"z":65.3},{"p":"D","x":-1,"y":-0.4,"z":67.2},{"p":"D","x":-1,"y":-0.2,"z":68.8},{"p":"D","x":-1,"y":0,"z":70.1},{"p":"D","x":-1,"y":0.2,"z":71.1},{"p":"D","x":-1,"y":0.4,"z":71.7},{"p":"D","x":-1,"y":0.6,"z":72.0},{"p":"D","x":-1,"y":0.8,"z":72.0},{"p":"D","x":-1,"y":1,"z":71.6},
{"p":"D","x":-0.8,"y":-1,"z":64.0},{"p":"D","x":-0.8,"y":-0.8,"z":66.6},{"p":"D","x":-0.8,"y":-0.6,"z":68.8},{"p":"D","x":-0.8,"y":-0.4,"z":70.7},{"p":"D","x":-0.8,"y":-0.2,"z":72.3},{"p":"D","x":-0.8,"y":0,"z":73.5},{"p":"D","x":-0.8,"y":0.2,"z":74.5},{"p":"D","x":-0.8,"y":0.4,"z":75.1},{"p":"D","x":-0.8,"y":0.6,"z":75.3},{"p":"D","x":-0.8,"y":0.8,"z":75.3},{"p":"D","x":-0.8,"y":1,"z":74.9},
{"p":"D","x":-0.6,"y":-1,"z":67.2},{"p":"D","x":-0.6,"y":-0.8,"z":69.8},{"p":"D","x":-0.6,"y":-0.6,"z":72.0},{"p":"D","x":-0.6,"y":-0.4,"z":73.8},{"p":"D","x":-0.6,"y":-0.2,"z":75.4},{"p":"D","x":-0.6,"y":0,"z":76.6},{"p":"D","x":-0.6,"y":0.2,"z":77.5},{"p":"D","x":-0.6,"y":0.4,"z":78.0},{"p":"D","x":-0.6,"y":0.6,"z":78.2},{"p":"D","x":-0.6,"y":0.8,"z":78.1},{"p":"D","x":-0.6,"y":1,"z":77.7},
{"p":"D","x":-0.4,"y":-1,"z":70.1},{"p":"D","x":-0.4,"y":-0.8,"z":72.5},{"p":"D","x":-0.4,"y":-0.6,"z":74.7},{"p":"D","x":-0.4,"y":-0.4,"z":76.5},{"p":"D","x":-0.4,"y":-0.2,"z":78.0},{"p":"D","x":-0.4,"y":0,"z":79.2},{"p":"D","x":-0.4,"y":0.2,"z":80.1},{"p":"D","x":-0.4,"y":0.4,"z":80.6},{"p":"D","x":-0.4,"y":0.6,"z":80.8},{"p":"D","x":-0.4,"y":0.8,"z":80.6},{"p":"D","x":-0.4,"y":1,"z":80.2},
{"p":"D","x":-0.2,"y":-1,"z":72.5},{"p":"D","x":-0.2,"y":-0.8,"z":74.9},{"p":"D","x":-0.2,"y":-0.6,"z":77.1},{"p":"D","x":-0.2,"y":-0.4,"z":78.9},{"p":"D","x":-0.2,"y":-0.2,"z":80.3},{"p":"D","x":-0.2,"y":0,"z":81.5},{"p":"D","x":-0.2,"y":0.2,"z":82.3},{"p":"D","x":-0.2,"y":0.4,"z":82.8},{"p":"D","x":-0.2,"y":0.6,"z":82.9},{"p":"D","x":-0.2,"y":0.8,"z":82.7},{"p":"D","x":-0.2,"y":1,"z":82.2},
{"p":"D","x":0,"y":-1,"z":74.5},{"p":"D","x":0,"y":-0.8,"z":76.9},{"p":"D","x":0,"y":-0.6,"z":79.0},{"p":"D","x":0,"y":-0.4,"z":80.8},{"p":"D","x":0,"y":-0.2,"z":82.2},{"p":"D","x":0,"y":0,"z":83.3},{"p":"D","x":0,"y":0.2,"z":84.1},{"p":"D","x":0,"y":0.4,"z":84.5},{"p":"D","x":0,"y":0.6,"z":84.6},{"p":"D","x":0,"y":0.8,"z":84.4},{"p":"D","x":0,"y":1,"z":83.9},
{"p":"D","x":0.2,"y":-1,"z":76.1},{"p":"D","x":0.2,"y":-0.8,"z":78.5},{"p":"D","x":0.2,"y":-0.6,"z":80.6},{"p":"D","x":0.2,"y":-0.4,"z":82.3},{"p":"D","x":0.2,"y":-0.2,"z":83.7},{"p":"D","x":0.2,"y":0,"z":84.7},{"p":"D","x":0.2,"y":0.2,"z":85.5},{"p":"D","x":0.2,"y":0.4,"z":85.9},{"p":"D","x":0.2,"y":0.6,"z":86.0},{"p":"D","x":0.2,"y":0.8,"z":85.7},{"p":"D","x":0.2,"y":1,"z":85.2},
{"p":"D","x":0.4,"y":-1,"z":77.3},{"p":"D","x":0.4,"y":-0.8,"z":79.7},{"p":"D","x":0.4,"y":-0.6,"z":81.7},{"p":"D","x":0.4,"y":-0.4,"z":83.4},{"p":"D","x":0.4,"y":-0.2,"z":84.7},{"p":"D","x":0.4,"y":0,"z":85.8},{"p":"D","x":0.4,"y":0.2,"z":86.5},{"p":"D","x":0.4,"y":0.4,"z":86.9},{"p":"D","x":0.4,"y":0.6,"z":86.9},{"p":"D","x":0.4,"y":0.8,"z":86.6},{"p":"D","x":0.4,"y":1,"z":86.0},
{"p":"D","x":0.6,"y":-1,"z":78.2},{"p":"D","x":0.6,"y":-0.8,"z":80.5},{"p":"D","x":0.6,"y":-0.6,"z":82.4},{"p":"D","x":0.6,"y":-0.4,"z":84.1},{"p":"D","x":0.6,"y":-0.2,"z":85.4},{"p":"D","x":0.6,"y":0,"z":86.4},{"p":"D","x":0.6,"y":0.2,"z":87.1},{"p":"D","x":0.6,"y":0.4,"z":87.4},{"p":"D","x":0.6,"y":0.6,"z":87.4},{"p":"D","x":0.6,"y":0.8,"z":87.1},{"p":"D","x":0.6,"y":1,"z":86.5},
{"p":"D","x":0.8,"y":-1,"z":78.6},{"p":"D","x":0.8,"y":-0.8,"z":80.9},{"p":"D","x":0.8,"y":-0.6,"z":82.8},{"p":"D","x":0.8,"y":-0.4,"z":84.4},{"p":"D","x":0.8,"y":-0.2,"z":85.7},{"p":"D","x":0.8,"y":0,"z":86.7},{"p":"D","x":0.8,"y":0.2,"z":87.3},{"p":"D","x":0.8,"y":0.4,"z":87.6},{"p":"D","x":0.8,"y":0.6,"z":87.6},{"p":"D","x":0.8,"y":0.8,"z":87.2},{"p":"D","x":0.8,"y":1,"z":86.5},
{"p":"D","x":1,"y":-1,"z":78.6},{"p":"D","x":1,"y":-0.8,"z":80.8},{"p":"D","x":1,"y":-0.6,"z":82.7},{"p":"D","x":1,"y":-0.4,"z":84.3},{"p":"D","x":1,"y":-0.2,"z":85.6},{"p":"D","x":1,"y":0,"z":86.5},{"p":"D","x":1,"y":0.2,"z":87.1},{"p":"D","x":1,"y":0.4,"z":87.4},{"p":"D","x":1,"y":0.6,"z":87.3},{"p":"D","x":1,"y":0.8,"z":86.9},{"p":"D","x":1,"y":1,"z":86.2},
{"p":"E","x":-1,"y":-1,"z":78.5},{"p":"E","x":-1,"y":-0.8,"z":78.4},{"p":"E","x":-1,"y":-0.6,"z":78.2},{"p":"E","x":-1,"y":-0.4,"z":77.7},{"p":"E","x":-1,"y":-0.2,"z":77.2},{"p":"E","x":-1,"y":0,"z":76.4},{"p":"E","x":-1,"y":0.2,"z":75.5},{"p":"E","x":-1,"y":0.4,"z":74.4},{"p":"E","x":-1,"y":0.6,"z":73.1},{"p":"E","x":-1,"y":0.8,"z":71.7},{"p":"E","x":-1,"y":1,"z":70.1},
{"p":"E","x":-0.8,"y":-1,"z":80.1},{"p":"E","x":-0.8,"y":-0.8,"z":80.0},{"p":"E","x":-0.8,"y":-0.6,"z":79.7},{"p":"E","x":-0.8,"y":-0.4,"z":79.3},{"p":"E","x":-0.8,"y":-0.2,"z":78.7},{"p":"E","x":-0.8,"y":0,"z":77.9},{"p":"E","x":-0.8,"y":0.2,"z":77.0},{"p":"E","x":-0.8,"y":0.4,"z":75.9},{"p":"E","x":-0.8,"y":0.6,"z":74.6},{"p":"E","x":-0.8,"y":0.8,"z":73.2},{"p":"E","x":-0.8,"y":1,"z":71.6},
{"p":"E","x":-0.6,"y":-1,"z":81.5},{"p":"E","x":-0.6,"y":-0.8,"z":81.4},{"p":"E","x":-0.6,"y":-0.6,"z":81.1},{"p":"E","x":-0.6,"y":-0.4,"z":80.6},{"p":"E","x":-0.6,"y":-0.2,"z":80.0},{"p":"E","x":-0.6,"y":0,"z":79.2},{"p":"E","x":-0.6,"y":0.2,"z":78.3},{"p":"E","x":-0.6,"y":0.4,"z":77.2},{"p":"E","x":-0.6,"y":0.6,"z":75.9},{"p":"E","x":-0.6,"y":0.8,"z":74.4},{"p":"E","x":-0.6,"y":1,"z":72.8},
{"p":"E","x":-0.4,"y":-1,"z":82.6},{"p":"E","x":-0.4,"y":-0.8,"z":82.5},{"p":"E","x":-0.4,"y":-0.6,"z":82.2},{"p":"E","x":-0.4,"y":-0.4,"z":81.8},{"p":"E","x":-0.4,"y":-0.2,"z":81.2},{"p":"E","x":-0.4,"y":0,"z":80.4},{"p":"E","x":-0.4,"y":0.2,"z":79.4},{"p":"E","x":-0.4,"y":0.4,"z":78.3},{"p":"E","x":-0.4,"y":0.6,"z":77.0},{"p":"E","x":-0.4,"y":0.8,"z":75.5},{"p":"E","x":-0.4,"y":1,"z":73.9},
{"p":"E","x":-0.2,"y":-1,"z":83.6},{"p":"E","x":-0.2,"y":-0.8,"z":83.5},{"p":"E","x":-0.2,"y":-0.6,"z":83.2},{"p":"E","x":-0.2,"y":-0.4,"z":82.7},{"p":"E","x":-0.2,"y":-0.2,"z":82.1},{"p":"E","x":-0.2,"y":0,"z":81.3},{"p":"E","x":-0.2,"y":0.2,"z":80.3},{"p":"E","x":-0.2,"y":0.4,"z":79.2},{"p":"E","x":-0.2,"y":0.6,"z":77.9},{"p":"E","x":-0.2,"y":0.8,"z":76.4},{"p":"E","x":-0.2,"y":1,"z":74.7},
{"p":"E","x":0,"y":-1,"z":84.4},{"p":"E","x":0,"y":-0.8,"z":84.3},{"p":"E","x":0,"y":-0.6,"z":83.9},{"p":"E","x":0,"y":-0.4,"z":83.5},{"p":"E","x":0,"y":-0.2,"z":82.8},{"p":"E","x":0,"y":0,"z":82.0},{"p":"E","x":0,"y":0.2,"z":81.0},{"p":"E","x":0,"y":0.4,"z":79.9},{"p":"E","x":0,"y":0.6,"z":78.5},{"p":"E","x":0,"y":0.8,"z":77.1},{"p":"E","x":0,"y":1,"z":75.4},
{"p":"E","x":0.2,"y":-1,"z":85.0},{"p":"E","x":0.2,"y":-0.8,"z":84.8},{"p":"E","x":0.2,"y":-0.6,"z":84.5},{"p":"E","x":0.2,"y":-0.4,"z":84.0},{"p":"E","x":0.2,"y":-0.2,"z":83.3},{"p":"E","x":0.2,"y":0,"z":82.5},{"p":"E","x":0.2,"y":0.2,"z":81.5},{"p":"E","x":0.2,"y":0.4,"z":80.4},{"p":"E","x":0.2,"y":0.6,"z":79.0},{"p":"E","x":0.2,"y":0.8,"z":77.5},{"p":"E","x":0.2,"y":1,"z":75.9},
{"p":"E","x":0.4,"y":-1,"z":85.4},{"p":"E","x":0.4,"y":-0.8,"z":85.2},{"p":"E","x":0.4,"y":-0.6,"z":84.9},{"p":"E","x":0.4,"y":-0.4,"z":84.4},{"p":"E","x":0.4,"y":-0.2,"z":83.7},{"p":"E","x":0.4,"y":0,"z":82.8},{"p":"E","x":0.4,"y":0.2,"z":81.8},{"p":"E","x":0.4,"y":0.4,"z":80.7},{"p":"E","x":0.4,"y":0.6,"z":79.3},{"p":"E","x":0.4,"y":0.8,"z":77.8},{"p":"E","x":0.4,"y":1,"z":76.1},
{"p":"E","x":0.6,"y":-1,"z":85.5},{"p":"E","x":0.6,"y":-0.8,"z":85.4},{"p":"E","x":0.6,"y":-0.6,"z":85.0},{"p":"E","x":0.6,"y":-0.4,"z":84.5},{"p":"E","x":0.6,"y":-0.2,"z":83.8},{"p":"E","x":0.6,"y":0,"z":83.0},{"p":"E","x":0.6,"y":0.2,"z":81.9},{"p":"E","x":0.6,"y":0.4,"z":80.8},{"p":"E","x":0.6,"y":0.6,"z":79.4},{"p":"E","x":0.6,"y":0.8,"z":77.9},{"p":"E","x":0.6,"y":1,"z":76.2},
{"p":"E","x":0.8,"y":-1,"z":85.5},{"p":"E","x":0.8,"y":-0.8,"z":85.3},{"p":"E","x":0.8,"y":-0.6,"z":85.0},{"p":"E","x":0.8,"y":-0.4,"z":84.4},{"p":"E","x":0.8,"y":-0.2,"z":83.7},{"p":"E","x":0.8,"y":0,"z":82.9},{"p":"E","x":0.8,"y":0.2,"z":81.8},{"p":"E","x":0.8,"y":0.4,"z":80.6},{"p":"E","x":0.8,"y":0.6,"z":79.3},{"p":"E","x":0.8,"y":0.8,"z":77.7},{"p":"E","x":0.8,"y":1,"z":76.0},
{"p":"E","x":1,"y":-1,"z":85.3},{"p":"E","x":1,"y":-0.8,"z":85.1},{"p":"E","x":1,"y":-0.6,"z":84.7},{"p":"E","x":1,"y":-0.4,"z":84.2},{"p":"E","x":1,"y":-0.2,"z":83.5},{"p":"E","x":1,"y":0,"z":82.6},{"p":"E","x":1,"y":0.2,"z":81.6},{"p":"E","x":1,"y":0.4,"z":80.3},{"p":"E","x":1,"y":0.6,"z":79.0},{"p":"E","x":1,"y":0.8,"z":77.4},{"p":"E","x":1,"y":1,"z":75.7},
{"p":"F","x":-1,"y":-1,"z":61.3},{"p":"F","x":-1,"y":-0.8,"z":64.7},{"p":"F","x":-1,"y":-0.6,"z":67.8},{"p":"F","x":-1,"y":-0.4,"z":70.6},{"p":"F","x":-1,"y":-0.2,"z":73.0},{"p":"F","x":-1,"y":0,"z":75.2},{"p":"F","x":-1,"y":0.2,"z":77.1},{"p":"F","x":-1,"y":0.4,"z":78.6},{"p":"F","x":-1,"y":0.6,"z":79.8},{"p":"F","x":-1,"y":0.8,"z":80.8},{"p":"F","x":-1,"y":1,"z":81.4},
{"p":"F","x":-0.8,"y":-1,"z":64.4},{"p":"F","x":-0.8,"y":-0.8,"z":67.8},{"p":"F","x":-0.8,"y":-0.6,"z":70.8},{"p":"F","x":-0.8,"y":-0.4,"z":73.5},{"p":"F","x":-0.8,"y":-0.2,"z":75.8},{"p":"F","x":-0.8,"y":0,"z":77.9},{"p":"F","x":-0.8,"y":0.2,"z":79.7},{"p":"F","x":-0.8,"y":0.4,"z":81.2},{"p":"F","x":-0.8,"y":0.6,"z":82.3},{"p":"F","x":-0.8,"y":0.8,"z":83.2},{"p":"F","x":-0.8,"y":1,"z":83.7},
{"p":"F","x":-0.6,"y":-1,"z":67.1},{"p":"F","x":-0.6,"y":-0.8,"z":70.3},{"p":"F","x":-0.6,"y":-0.6,"z":73.2},{"p":"F","x":-0.6,"y":-0.4,"z":75.9},{"p":"F","x":-0.6,"y":-0.2,"z":78.2},{"p":"F","x":-0.6,"y":0,"z":80.2},{"p":"F","x":-0.6,"y":0.2,"z":81.8},{"p":"F","x":-0.6,"y":0.4,"z":83.2},{"p":"F","x":-0.6,"y":0.6,"z":84.3},{"p":"F","x":-0.6,"y":0.8,"z":85.1},{"p":"F","x":-0.6,"y":1,"z":85.5},
{"p":"F","x":-0.4,"y":-1,"z":69.3},{"p":"F","x":-0.4,"y":-0.8,"z":72.4},{"p":"F","x":-0.4,"y":-0.6,"z":75.3},{"p":"F","x":-0.4,"y":-0.4,"z":77.8},{"p":"F","x":-0.4,"y":-0.2,"z":80.0},{"p":"F","x":-0.4,"y":0,"z":81.9},{"p":"F","x":-0.4,"y":0.2,"z":83.5},{"p":"F","x":-0.4,"y":0.4,"z":84.8},{"p":"F","x":-0.4,"y":0.6,"z":85.8},{"p":"F","x":-0.4,"y":0.8,"z":86.5},{"p":"F","x":-0.4,"y":1,"z":86.9},
{"p":"F","x":-0.2,"y":-1,"z":71.0},{"p":"F","x":-0.2,"y":-0.8,"z":74.0},{"p":"F","x":-0.2,"y":-0.6,"z":76.8},{"p":"F","x":-0.2,"y":-0.4,"z":79.2},{"p":"F","x":-0.2,"y":-0.2,"z":81.4},{"p":"F","x":-0.2,"y":0,"z":83.2},{"p":"F","x":-0.2,"y":0.2,"z":84.7},{"p":"F","x":-0.2,"y":0.4,"z":85.9},{"p":"F","x":-0.2,"y":0.6,"z":86.8},{"p":"F","x":-0.2,"y":0.8,"z":87.4},{"p":"F","x":-0.2,"y":1,"z":87.7},
{"p":"F","x":0,"y":-1,"z":72.2},{"p":"F","x":0,"y":-0.8,"z":75.2},{"p":"F","x":0,"y":-0.6,"z":77.8},{"p":"F","x":0,"y":-0.4,"z":80.2},{"p":"F","x":0,"y":-0.2,"z":82.3},{"p":"F","x":0,"y":0,"z":84.0},{"p":"F","x":0,"y":0.2,"z":85.4},{"p":"F","x":0,"y":0.4,"z":86.6},{"p":"F","x":0,"y":0.6,"z":87.4},{"p":"F","x":0,"y":0.8,"z":87.9},{"p":"F","x":0,"y":1,"z":88.1},
{"p":"F","x":0.2,"y":-1,"z":72.9},{"p":"F","x":0.2,"y":-0.8,"z":75.8},{"p":"F","x":0.2,"y":-0.6,"z":78.4},{"p":"F","x":0.2,"y":-0.4,"z":80.7},{"p":"F","x":0.2,"y":-0.2,"z":82.7},{"p":"F","x":0.2,"y":0,"z":84.3},{"p":"F","x":0.2,"y":0.2,"z":85.7},{"p":"F","x":0.2,"y":0.4,"z":86.7},{"p":"F","x":0.2,"y":0.6,"z":87.5},{"p":"F","x":0.2,"y":0.8,"z":87.9},{"p":"F","x":0.2,"y":1,"z":88.0},
{"p":"F","x":0.4,"y":-1,"z":73.2},{"p":"F","x":0.4,"y":-0.8,"z":76.0},{"p":"F","x":0.4,"y":-0.6,"z":78.5},{"p":"F","x":0.4,"y":-0.4,"z":80.7},{"p":"F","x":0.4,"y":-0.2,"z":82.6},{"p":"F","x":0.4,"y":0,"z":84.2},{"p":"F","x":0.4,"y":0.2,"z":85.4},{"p":"F","x":0.4,"y":0.4,"z":86.4},{"p":"F","x":0.4,"y":0.6,"z":87.0},{"p":"F","x":0.4,"y":0.8,"z":87.4},{"p":"F","x":0.4,"y":1,"z":87.4},
{"p":"F","x":0.6,"y":-1,"z":73.0},{"p":"F","x":0.6,"y":-0.8,"z":75.7},{"p":"F","x":0.6,"y":-0.6,"z":78.1},{"p":"F","x":0.6,"y":-0.4,"z":80.2},{"p":"F","x":0.6,"y":-0.2,"z":82.0},{"p":"F","x":0.6,"y":0,"z":83.5},{"p":"F","x":0.6,"y":0.2,"z":84.7},{"p":"F","x":0.6,"y":0.4,"z":85.6},{"p":"F","x":0.6,"y":0.6,"z":86.1},{"p":"F","x":0.6,"y":0.8,"z":86.4},{"p":"F","x":0.6,"y":1,"z":86.4},
{"p":"F","x":0.8,"y":-1,"z":72.3},{"p":"F","x":0.8,"y":-0.8,"z":74.9},{"p":"F","x":0.8,"y":-0.6,"z":77.3},{"p":"F","x":0.8,"y":-0.4,"z":79.3},{"p":"F","x":0.8,"y":-0.2,"z":81.0},{"p":"F","x":0.8,"y":0,"z":82.4},{"p":"F","x":0.8,"y":0.2,"z":83.5},{"p":"F","x":0.8,"y":0.4,"z":84.3},{"p":"F","x":0.8,"y":0.6,"z":84.8},{"p":"F","x":0.8,"y":0.8,"z":85.0},{"p":"F","x":0.8,"y":1,"z":84.8},
{"p":"F","x":1,"y":-1,"z":71.1},{"p":"F","x":1,"y":-0.8,"z":73.7},{"p":"F","x":1,"y":-0.6,"z":75.9},{"p":"F","x":1,"y":-0.4,"z":77.8},{"p":"F","x":1,"y":-0.2,"z":79.5},{"p":"F","x":1,"y":0,"z":80.8},{"p":"F","x":1,"y":0.2,"z":81.8},{"p":"F","x":1,"y":0.4,"z":82.5},{"p":"F","x":1,"y":0.6,"z":82.9},{"p":"F","x":1,"y":0.8,"z":83.0},{"p":"F","x":1,"y":1,"z":82.8}
]},
"facet":{"field":"p","type":"nominal","header":{"title":null,"labelColor":"transparent","labelFontSize":1,"labelPadding":0}},
"spec":{
"width":470,"height":362,
"encoding":{
"x":{"field":"px","type":"quantitative","scale":{"domain":[-2.042,2.059],"nice":false,"zero":false},"axis":null},
"y":{"field":"py","type":"quantitative","scale":{"domain":[-1.9497,1.3028],"nice":false,"zero":false},"axis":null}
},
"layer":[
{"transform":[{"filter":"datum.t=='F'"},{"calculate":"[-1,1,1,-1]","as":"X"},{"calculate":"[-1,-1,1,1]","as":"Y"},{"calculate":"[0,1,2,3]","as":"k"},{"flatten":["X","Y","k"]},{"calculate":"33.2","as":"Z"},
{"calculate":"1/(1+0.1027*(0.6604*(datum.X+datum.Y)-0.01139*(datum.Z-66.6)))","as":"s"},{"calculate":"0.7071*(datum.X-datum.Y)*datum.s","as":"px"},{"calculate":"(0.02972*(datum.Z-66.6)+0.2531*(datum.X+datum.Y))*datum.s","as":"py"}],
"mark":{"type":"line","interpolate":"linear-closed","filled":true,"color":"#5e5e5e","stroke":"#2b2b2b","strokeWidth":0.8},
"encoding":{"order":{"field":"k","type":"quantitative"}}},
{"transform":[{"filter":"datum.t=='c'"},{"window":[{"op":"row_number","as":"rn"}],"groupby":["p","g"]},{"calculate":"datum.x","as":"X"},{"calculate":"datum.y","as":"Y"},{"calculate":"33.2","as":"Z"},
{"calculate":"1/(1+0.1027*(0.6604*(datum.X+datum.Y)-0.01139*(datum.Z-66.6)))","as":"s"},{"calculate":"0.7071*(datum.X-datum.Y)*datum.s","as":"px"},{"calculate":"(0.02972*(datum.Z-66.6)+0.2531*(datum.X+datum.Y))*datum.s","as":"py"}],
"mark":{"type":"line","strokeWidth":1.4,"interpolate":"monotone"},
"encoding":{"color":{"field":"z","type":"quantitative","legend":null,"scale":{"type":"linear","domain":[56,60,64,68,72,80,88,92,95,98],"range":["#0040ff","#0090ff","#00e0ff","#00eda0","#20e020","#a8f000","#f0f000","#ffa000","#ff4800","#ff0000"],"clamp":true,"zero":false,"nice":false,"interpolate":"rgb"}},"detail":{"field":"g"},"order":{"field":"rn","type":"quantitative"}}},
{"transform":[{"filter":"indexof(['x','y','z'],datum.t)>=0"},
{"calculate":"datum.t=='x'?[datum.v,datum.v]:datum.t=='y'?[1,1]:[-1,1,1]","as":"X"},
{"calculate":"datum.t=='x'?[1,1]:datum.t=='y'?[datum.v,datum.v]:[1,1,-1]","as":"Y"},
{"calculate":"datum.t=='z'?[datum.z,datum.z,datum.z]:[abs(datum.v)==1?33.2:50,100]","as":"Z"},
{"calculate":"datum.t=='z'?[0,1,2]:[0,1]","as":"k"},
{"calculate":"datum.t+'_'+datum.v+'_'+datum.z","as":"g"},
{"flatten":["X","Y","Z","k"]},
{"calculate":"1/(1+0.1027*(0.6604*(datum.X+datum.Y)-0.01139*(datum.Z-66.6)))","as":"s"},{"calculate":"0.7071*(datum.X-datum.Y)*datum.s","as":"px"},{"calculate":"(0.02972*(datum.Z-66.6)+0.2531*(datum.X+datum.Y))*datum.s","as":"py"}],
"mark":{"type":"line","stroke":"#3c3c3c","strokeWidth":0.8},
"encoding":{"detail":{"field":"g"},"order":{"field":"k","type":"quantitative"}}},
{"transform":[{"filter":"!datum.t"},
{"window":[{"op":"lead","field":"z","as":"z01"},{"op":"lead","field":"y","as":"y1"}],"groupby":["p","x"],"sort":[{"field":"y","order":"ascending"}]},
{"window":[{"op":"lead","field":"z","as":"z10"},{"op":"lead","field":"z01","as":"z11"},{"op":"lead","field":"x","as":"x1"}],"groupby":["p","y"],"sort":[{"field":"x","order":"ascending"}]},
{"filter":"datum.x1!=null&&datum.y1!=null"},
{"calculate":"(datum.z+datum.z01+datum.z10+datum.z11)/4","as":"zm"},
{"calculate":"datum.x+'_'+datum.y","as":"q"},
{"calculate":"[datum.x,datum.x1,datum.x1,datum.x]","as":"X"},
{"calculate":"[datum.y,datum.y,datum.y1,datum.y1]","as":"Y"},
{"calculate":"[datum.z,datum.z10,datum.z11,datum.z01]","as":"Z"},
{"calculate":"[0,1,2,3]","as":"k"},
{"flatten":["X","Y","Z","k"]},
{"calculate":"1/(1+0.1027*(0.6604*(datum.X+datum.Y)-0.01139*(datum.Z-66.6)))","as":"s"},{"calculate":"0.7071*(datum.X-datum.Y)*datum.s","as":"px"},{"calculate":"(0.02972*(datum.Z-66.6)+0.2531*(datum.X+datum.Y))*datum.s","as":"py"}],
"mark":{"type":"line","interpolate":"linear-closed","filled":true,"stroke":"#222222","strokeWidth":0.6,"strokeOpacity":0.85},
"encoding":{"color":{"field":"zm","type":"quantitative","legend":null,"scale":{"type":"linear","domain":[56,60,64,68,72,80,88,92,95,98],"range":["#0040ff","#0090ff","#00e0ff","#00eda0","#20e020","#a8f000","#f0f000","#ffa000","#ff4800","#ff0000"],"clamp":true,"zero":false,"nice":false,"interpolate":"rgb"}},"detail":{"field":"q"},"order":{"field":"k","type":"quantitative"}}},
{"transform":[{"filter":"indexof(['x','y','z'],datum.t)>=0"},
{"calculate":"datum.t=='x'?datum.v:-1","as":"X"},
{"calculate":"datum.t=='x'?-1:datum.t=='y'?datum.v:1","as":"Y"},
{"calculate":"datum.t=='z'?datum.z:33.2","as":"Z"},
{"calculate":"1/(1+0.1027*(0.6604*(datum.X+datum.Y)-0.01139*(datum.Z-66.6)))","as":"s"},{"calculate":"0.7071*(datum.X-datum.Y)*datum.s","as":"px"},{"calculate":"(0.02972*(datum.Z-66.6)+0.2531*(datum.X+datum.Y))*datum.s","as":"py"}],
"mark":{"type":"point","filled":true,"size":8,"color":"#111111","opacity":1}},
{"transform":[{"filter":"datum.t=='x'"},{"calculate":"datum.v","as":"X"},{"calculate":"-1","as":"Y"},{"calculate":"33.2","as":"Z"},
{"calculate":"1/(1+0.1027*(0.6604*(datum.X+datum.Y)-0.01139*(datum.Z-66.6)))","as":"s"},{"calculate":"0.7071*(datum.X-datum.Y)*datum.s","as":"px"},{"calculate":"(0.02972*(datum.Z-66.6)+0.2531*(datum.X+datum.Y))*datum.s","as":"py"}],
"mark":{"type":"text","align":"left","baseline":"middle","dx":7,"dy":8,"font":"Open Sans","fontSize":12,"color":"#333333"},
"encoding":{"text":{"field":"l"}}},
{"transform":[{"filter":"datum.t=='y'"},{"calculate":"-1","as":"X"},{"calculate":"datum.v","as":"Y"},{"calculate":"33.2","as":"Z"},
{"calculate":"1/(1+0.1027*(0.6604*(datum.X+datum.Y)-0.01139*(datum.Z-66.6)))","as":"s"},{"calculate":"0.7071*(datum.X-datum.Y)*datum.s","as":"px"},{"calculate":"(0.02972*(datum.Z-66.6)+0.2531*(datum.X+datum.Y))*datum.s","as":"py"}],
"mark":{"type":"text","align":"right","baseline":"middle","dx":-6,"dy":8,"font":"Open Sans","fontSize":12,"color":"#333333"},
"encoding":{"text":{"field":"l"}}},
{"transform":[{"filter":"datum.t=='z'"},{"calculate":"-1","as":"X"},{"calculate":"1","as":"Y"},{"calculate":"datum.z","as":"Z"},
{"calculate":"1/(1+0.1027*(0.6604*(datum.X+datum.Y)-0.01139*(datum.Z-66.6)))","as":"s"},{"calculate":"0.7071*(datum.X-datum.Y)*datum.s","as":"px"},{"calculate":"(0.02972*(datum.Z-66.6)+0.2531*(datum.X+datum.Y))*datum.s","as":"py"}],
"mark":{"type":"text","align":"right","baseline":"middle","dx":-6,"dy":-5,"font":"Open Sans","fontSize":12,"color":"#333333"},
"encoding":{"text":{"field":"l"}}},
{"transform":[{"filter":"datum.t=='T'&&datum.a=='x'"},{"calculate":"1","as":"X"},{"calculate":"-1","as":"Y"},{"calculate":"33.2","as":"Z"},
{"calculate":"1/(1+0.1027*(0.6604*(datum.X+datum.Y)-0.01139*(datum.Z-66.6)))","as":"s"},{"calculate":"0.7071*(datum.X-datum.Y)*datum.s","as":"px"},{"calculate":"(0.02972*(datum.Z-66.6)+0.2531*(datum.X+datum.Y))*datum.s","as":"py"}],
"mark":{"type":"text","align":"center","baseline":"middle","dx":5,"dy":70,"font":"Open Sans","fontSize":12.5,"color":"#333333"},
"encoding":{"text":{"field":"l"}}},
{"transform":[{"filter":"datum.t=='T'&&datum.a=='y'"},{"calculate":"-1","as":"X"},{"calculate":"1","as":"Y"},{"calculate":"33.2","as":"Z"},
{"calculate":"1/(1+0.1027*(0.6604*(datum.X+datum.Y)-0.01139*(datum.Z-66.6)))","as":"s"},{"calculate":"0.7071*(datum.X-datum.Y)*datum.s","as":"px"},{"calculate":"(0.02972*(datum.Z-66.6)+0.2531*(datum.X+datum.Y))*datum.s","as":"py"}],
"mark":{"type":"text","align":"center","baseline":"middle","dx":18,"dy":70,"font":"Open Sans","fontSize":12.5,"color":"#333333"},
"encoding":{"text":{"field":"l"}}},
{"transform":[{"filter":"datum.t=='T'&&datum.a=='z'"},{"calculate":"-1","as":"X"},{"calculate":"1","as":"Y"},{"calculate":"66.6","as":"Z"},
{"calculate":"1/(1+0.1027*(0.6604*(datum.X+datum.Y)-0.01139*(datum.Z-66.6)))","as":"s"},{"calculate":"0.7071*(datum.X-datum.Y)*datum.s","as":"px"},{"calculate":"(0.02972*(datum.Z-66.6)+0.2531*(datum.X+datum.Y))*datum.s","as":"py"}],
"mark":{"type":"text","align":"center","baseline":"middle","angle":270,"dy":-49,"font":"Open Sans","fontSize":12.5,"color":"#333333"},
"encoding":{"text":{"field":"l"}}},
{"transform":[{"filter":"datum.t=='L'"},{"calculate":"-1","as":"X"},{"calculate":"1","as":"Y"},{"calculate":"100","as":"Z"},
{"calculate":"1/(1+0.1027*(0.6604*(datum.X+datum.Y)-0.01139*(datum.Z-66.6)))","as":"s"},{"calculate":"0.7071*(datum.X-datum.Y)*datum.s","as":"px"},{"calculate":"(0.02972*(datum.Z-66.6)+0.2531*(datum.X+datum.Y))*datum.s","as":"py"}],
"mark":{"type":"text","align":"left","baseline":"top","dx":-63,"dy":-43,"font":"Liberation Sans","fontSize":21,"fontWeight":"bold","color":"#000000"},
"encoding":{"text":{"field":"l"}}},
{"transform":[{"filter":"datum.t=='d'"},{"calculate":"datum.x","as":"X"},{"calculate":"datum.y","as":"Y"},{"calculate":"datum.z","as":"Z"},
{"calculate":"1/(1+0.1027*(0.6604*(datum.X+datum.Y)-0.01139*(datum.Z-66.6)))","as":"s"},{"calculate":"0.7071*(datum.X-datum.Y)*datum.s","as":"px"},{"calculate":"(0.02972*(datum.Z-66.6)+0.2531*(datum.X+datum.Y))*datum.s","as":"py"}],
"mark":{"type":"point","filled":true,"size":40,"strokeWidth":0.7,"opacity":1},
"encoding":{"color":{"condition":{"test":"datum.a==1","value":"#c40000"},"value":"#f7d2d2"},"stroke":{"condition":{"test":"datum.a==1","value":"#5a0000"},"value":"#9a7a7a"}}}
]
},
"config":{"view":{"stroke":null}}
}
